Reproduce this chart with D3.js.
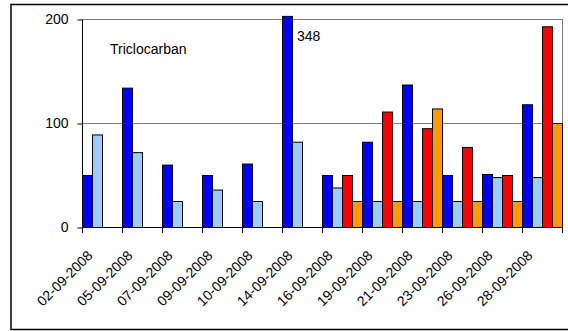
<!DOCTYPE html>
<html>
<head>
<meta charset="utf-8">
<script src="https://cdn.jsdelivr.net/npm/d3@7"></script>
<style>
  html, body { margin: 0; padding: 0; background: #fff; }
  svg { display: block; font-family: Arial, "Liberation Sans", sans-serif; }
</style>
</head>
<body>
<svg id="chart" width="568" height="331"></svg>
<script>
// ---- data ----
const categories = ["02-09-2008","05-09-2008","07-09-2008","09-09-2008","10-09-2008","14-09-2008",
                    "16-09-2008","19-09-2008","21-09-2008","23-09-2008","26-09-2008","28-09-2008"];
const seriesNames = ["s1", "s2", "s3", "s4"];
const seriesDarkBlue  = [50, 134, 60, 50, 61, 348, 50, 82, 137, 50, 51, 118];
const seriesLightBlue = [89, 72, 25, 36, 25, 82, 38, 25, 25, 25, 48, 48];
const seriesRed       = [null, null, null, null, null, null, 50, 111, 95, 77, 50, 193];
const seriesOrange    = [null, null, null, null, null, null, 25, 25, 114, 25, 25, 100];
const seriesColors = ["#0000FF", "#99CCFF", "#FF0000", "#FF9900"];
const yTicks = [0, 100, 200];
const chartLabel = "Triclocarban";
const overflowLabel = "348";

const allSeries = [seriesDarkBlue, seriesLightBlue, seriesRed, seriesOrange];

// ---- layout ----
const svg = d3.select("#chart");
const mLeft = 82, mRight = 562, mTop = 19, mBottom = 227;

const x0 = d3.scaleBand().domain(categories).range([mLeft, mRight]).paddingInner(0).paddingOuter(0);
const x1 = d3.scaleBand().domain(d3.range(seriesNames.length)).range([0, x0.bandwidth()]).padding(0);
const y = d3.scaleLinear().domain([0, 200]).range([mBottom, mTop]);

// outer border
svg.append("rect").attr("x", 11).attr("y", 4.5).attr("width", 600).attr("height", 325)
  .attr("fill", "none").attr("stroke", "#000").attr("stroke-width", 1.5);

// gridlines
svg.append("g").selectAll("line").data(yTicks.filter(d => d > 0)).join("line")
  .attr("x1", mLeft).attr("x2", mRight)
  .attr("y1", d => y(d) + 0.5).attr("y2", d => y(d) + 0.5)
  .attr("stroke", "#808080").attr("stroke-width", 1);
// plot area right border
svg.append("line").attr("x1", mRight + 0.5).attr("x2", mRight + 0.5)
  .attr("y1", y(200)).attr("y2", y(0)).attr("stroke", "#808080").attr("stroke-width", 1);

// bars
const barData = [];
categories.forEach((c, i) => {
  allSeries.forEach((s, j) => {
    if (s[i] != null) barData.push({ cat: c, j: j, v: s[i] });
  });
});
const yTopClip = y(203);
svg.append("g").selectAll("rect").data(barData).join("rect")
  .attr("x", d => x0(d.cat) + x1(d.j) + 0.5)
  .attr("y", d => Math.max(y(d.v), yTopClip) + 0.5)
  .attr("width", x1.bandwidth())
  .attr("height", d => y(0) - Math.max(y(d.v), yTopClip))
  .attr("fill", d => seriesColors[d.j])
  .attr("stroke", "#000").attr("stroke-width", 1);

// y axis
const yAxis = d3.axisLeft(y).tickValues(yTicks).tickSize(5).tickPadding(9).tickFormat(d3.format("d"));
const gy = svg.append("g").attr("transform", `translate(${mLeft + 0.5},0.5)`).call(yAxis);
gy.select(".domain").attr("stroke", "#000").attr("d", `M0,${y(200)}V${y(0)}`);
gy.selectAll(".tick line").attr("stroke", "#000");
gy.selectAll(".tick text").attr("font-size", 14).attr("fill", "#000")
  .attr("font-family", "Arial, 'Liberation Sans', sans-serif");

// x axis
const xTickPos = categories.map(c => x0(c)).concat([mRight]);
const gx = svg.append("g");
gx.append("line").attr("x1", mLeft).attr("x2", mRight + 1).attr("y1", y(0) + 0.5).attr("y2", y(0) + 0.5)
  .attr("stroke", "#000");
gx.selectAll("line.tk").data(xTickPos).join("line").attr("class", "tk")
  .attr("x1", d => d + 0.5).attr("x2", d => d + 0.5)
  .attr("y1", y(0)).attr("y2", y(0) + 6).attr("stroke", "#000");
gx.selectAll("text").data(categories).join("text")
  .attr("transform", d => `translate(${x0(d) + x0.bandwidth() / 2 - 12},${y(0) + 26}) rotate(-45)`)
  .attr("text-anchor", "end").attr("dy", "0.35em")
  .attr("font-size", 14).attr("fill", "#000")
  .text(d => d);

// annotations
svg.append("text").attr("x", 110).attr("y", 54).attr("font-size", 14).attr("fill", "#000").text(chartLabel);
const ovIdx = categories.indexOf("14-09-2008");
svg.append("text")
  .attr("x", x0(categories[ovIdx]) + x1(0) + x1.bandwidth() + 5)
  .attr("y", y(200) + 22)
  .attr("font-size", 14).attr("fill", "#000").text(overflowLabel);
</script>
</body>
</html>
